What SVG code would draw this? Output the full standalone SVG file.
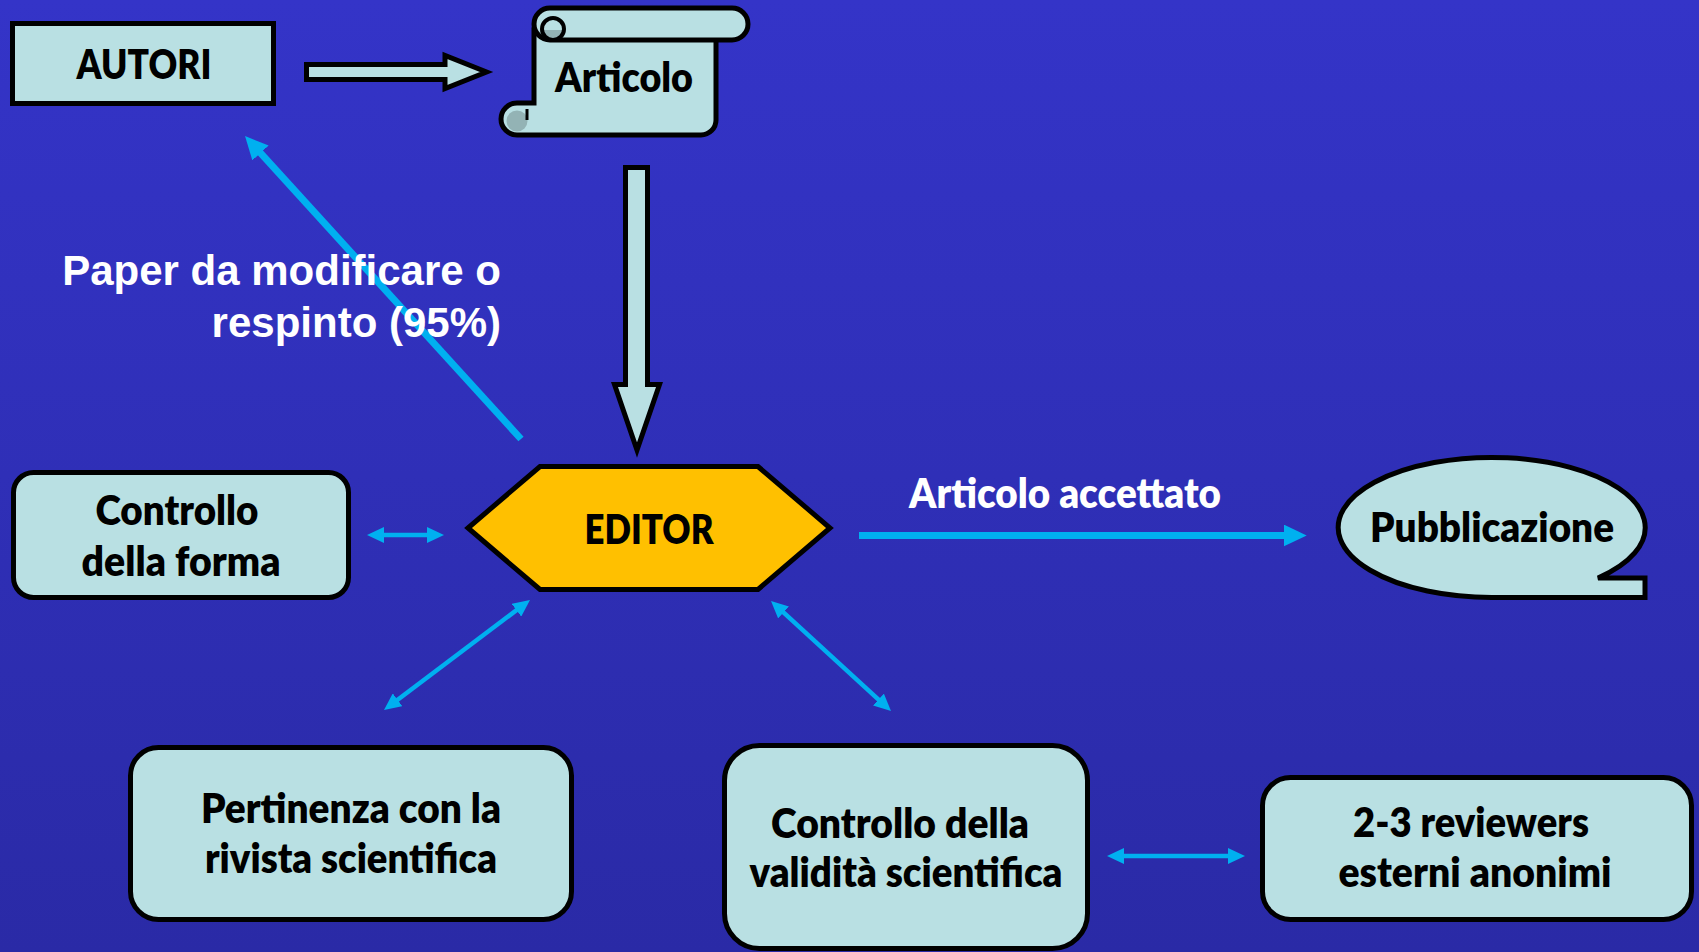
<svg xmlns="http://www.w3.org/2000/svg" width="1699" height="952" viewBox="0 0 1699 952">
  <defs>
    <linearGradient id="bg" x1="0" y1="0" x2="0" y2="1">
      <stop offset="0" stop-color="#3434C8"/>
      <stop offset="1" stop-color="#2A2AA6"/>
    </linearGradient>
    <marker id="ah" markerUnits="userSpaceOnUse" markerWidth="17" markerHeight="16" viewBox="0 0 17 16" refX="9" refY="8" orient="auto-start-reverse">
      <path d="M0,0 L17,8 L0,16 Z" fill="#00B0F0"/>
    </marker>
    <marker id="ahL" markerUnits="userSpaceOnUse" markerWidth="23" markerHeight="22" viewBox="0 0 23 22" refX="11" refY="11" orient="auto">
      <path d="M0,0 L23,11 L0,22 Z" fill="#00B0F0"/>
    </marker>
    <style>
      .box{fill:#B9E0E3;stroke:#000;stroke-width:5;stroke-linejoin:miter}
      .dark{fill:#93B3B5}
      .lbl{font-family:Lato,"Open Sans",sans-serif;font-weight:800;font-size:42px;fill:#000;text-anchor:middle}
      .wl{font-family:Lato,"Open Sans",sans-serif;font-weight:800;font-size:42px;fill:#fff;text-anchor:middle}
      .ar{font-family:"Liberation Sans",Arial,sans-serif;font-weight:700;font-size:42px;fill:#fff;text-anchor:end}
      .lk{stroke:#00B0F0;fill:none;stroke-width:4.5}
      .lkL{stroke:#00B0F0;fill:none;stroke-width:7}
    </style>
  </defs>
  <rect x="0" y="0" width="1699" height="952" fill="url(#bg)"/>

  <g id="connectors">
    <polygon class="box" points="306.5,64.5 445,64.5 445,55.5 486.5,72 445,88.5 445,79.5 306.5,79.5"/>
    <polygon class="box" points="625.5,167.5 647.5,167.5 647.5,384.5 659.5,384.5 637,450 614.5,384.5 625.5,384.5"/>
    <line class="lkL" x1="521" y1="439" x2="253.1" y2="144.9" marker-end="url(#ahL)"/>
    <line class="lkL" x1="859" y1="535.5" x2="1294.7" y2="535.5" marker-end="url(#ahL)"/>
    <line class="lk" x1="375" y1="535" x2="436" y2="535" marker-start="url(#ah)" marker-end="url(#ah)"/>
    <line class="lk" x1="390.4" y1="705.2" x2="523.6" y2="604.8" marker-start="url(#ah)" marker-end="url(#ah)"/>
    <line class="lk" x1="776.9" y1="606.4" x2="885.1" y2="705.6" marker-start="url(#ah)" marker-end="url(#ah)"/>
    <line class="lk" x1="1115" y1="856" x2="1237" y2="856" marker-start="url(#ah)" marker-end="url(#ah)"/>
    <text class="ar" x="501" y="285">Paper da modificare o</text>
    <text class="ar" x="501" y="337">respinto (95%)</text>
    <text class="wl" x="1065" y="508" textLength="312" lengthAdjust="spacingAndGlyphs">Articolo accettato</text>
  </g>

  <g id="autori">
    <rect class="box" x="12.5" y="23.5" width="261" height="80"/>
    <text class="lbl" x="144" y="79" textLength="135" lengthAdjust="spacingAndGlyphs">AUTORI</text>
  </g>

  <g id="articolo">
    <path class="box" d="M534,30 L716,30 L716,120 A15,15 0 0 1 701,135 L517,135 A16,16 0 0 1 517,103 L534,103 Z"/>
    <circle class="dark" cx="517" cy="121" r="10.5"/>
    <path d="M527,109 L527,120" stroke="#000" stroke-width="3" fill="none"/>
    <path class="box" d="M550,8 L732,8 A16,16 0 0 1 732,40 L550,40 A16,16 0 0 1 550,8 Z"/>
    <path class="dark" d="M543,30 A10,10 0 0 0 563,30 Z"/>
    <circle cx="553" cy="29" r="11" fill="none" stroke="#000" stroke-width="4"/>
    <text class="lbl" x="624" y="92" textLength="138" lengthAdjust="spacingAndGlyphs">Articolo</text>
  </g>

  <g id="editor">
    <polygon points="468,528 540,466.5 758,466.5 830,528 758,589.5 540,589.5" fill="#FFC000" stroke="#000" stroke-width="5"/>
    <text class="lbl" x="649" y="544" textLength="129" lengthAdjust="spacingAndGlyphs">EDITOR</text>
  </g>

  <g id="controllo-forma">
    <rect class="box" x="13.5" y="472.5" width="335" height="125" rx="20"/>
    <text class="lbl" x="177" y="525" textLength="163" lengthAdjust="spacingAndGlyphs">Controllo</text>
    <text class="lbl" x="181" y="576" textLength="199" lengthAdjust="spacingAndGlyphs">della forma</text>
  </g>

  <g id="pubblicazione">
    <path class="box" d="M1598,578 A153.5,70 0 1 0 1492,597.5 L1645,597.5 L1645,578 Z"/>
    <text class="lbl" x="1492" y="542" textLength="244" lengthAdjust="spacingAndGlyphs">Pubblicazione</text>
  </g>

  <g id="pertinenza">
    <rect class="box" x="130.5" y="747.5" width="441" height="172" rx="28"/>
    <text class="lbl" x="351" y="823" textLength="300" lengthAdjust="spacingAndGlyphs">Pertinenza con la</text>
    <text class="lbl" x="351" y="873" textLength="292" lengthAdjust="spacingAndGlyphs">rivista scientifica</text>
  </g>

  <g id="validita">
    <rect class="box" x="724.5" y="745.5" width="363" height="203" rx="35"/>
    <text class="lbl" x="900" y="838" textLength="258" lengthAdjust="spacingAndGlyphs">Controllo della</text>
    <text class="lbl" x="906" y="887" textLength="313" lengthAdjust="spacingAndGlyphs">validità scientifica</text>
  </g>

  <g id="reviewers">
    <rect class="box" x="1262.5" y="777.5" width="429" height="142" rx="28"/>
    <text class="lbl" x="1471" y="837" textLength="236" lengthAdjust="spacingAndGlyphs">2-3 reviewers</text>
    <text class="lbl" x="1475" y="887" textLength="273" lengthAdjust="spacingAndGlyphs">esterni anonimi</text>
  </g>
</svg>
